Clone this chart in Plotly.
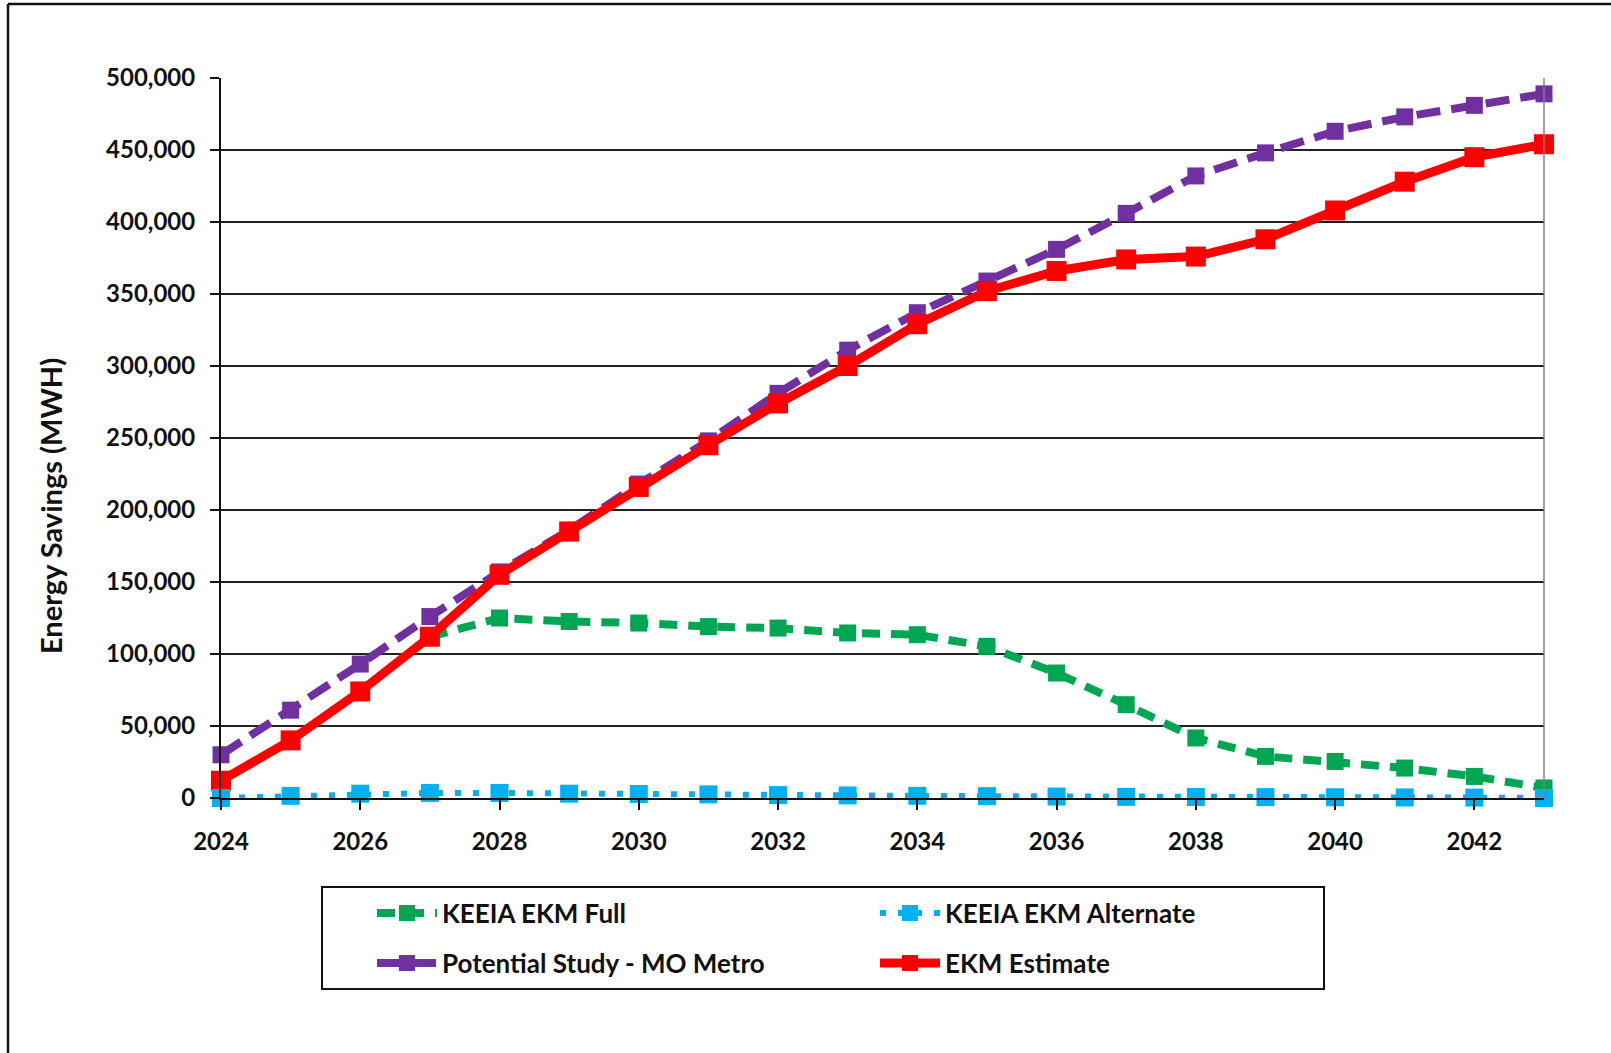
import plotly.graph_objects as go

# Annual energy savings by scenario (MWH)
years = list(range(2024, 2044))
keeia_full = [None, None, None, 112000, 125000, 122600, 121500, 119000, 118000, 114600,
              113400, 105300, 86800, 64800, 41700, 28900, 25400, 20800, 15000, 7000]
keeia_alternate = [0, 1500, 3000, 3500, 3500, 3000, 2800, 2500, 2000, 1800,
                   1500, 1300, 1000, 800, 700, 600, 500, 400, 300, 0]
potential_study = [30000, 61000, 93000, 126000, 157000, 186000, 218000, 248000, 281000, 311000,
                   337000, 359000, 381000, 406000, 432000, 448000, 463000, 473000, 481000, 489000]
ekm_estimate = [12000, 40000, 74000, 112000, 155000, 185000, 216000, 245000, 274000, 300000,
                329000, 352000, 366000, 374000, 376000, 388000, 408000, 428000, 445000, 454000]

y_ticks = [0, 50000, 100000, 150000, 200000, 250000, 300000, 350000, 400000, 450000, 500000]
x_ticks = list(range(2024, 2043, 2))

W, H = 1611, 1053
ML, MR, MT, MB = 221, 67, 78, 255
PW, PH = W - ML - MR, H - MT - MB


def px_x(px):
    return (px - ML) / PW


def px_y(py):
    return (H - MB - py) / PH


FONT = "Lato"
GREEN, BLUE, PURPLE, RED = "#00A651", "#00B0F0", "#7030A0", "#FF0000"

fig = go.Figure()

fig.add_trace(go.Scatter(
    x=years, y=potential_study, name="Potential Study - MO Metro", mode="lines+markers",
    line=dict(color=PURPLE, width=8, dash="24px,11px"),
    marker=dict(symbol="square", size=17, color=PURPLE),
    legend="legend2", legendrank=1, cliponaxis=False,
))
fig.add_trace(go.Scatter(
    x=years, y=keeia_full, name="KEEIA EKM Full", mode="lines+markers",
    line=dict(color=GREEN, width=8, dash="18px,11px"),
    marker=dict(symbol="square", size=17, color=GREEN),
    legend="legend", legendrank=1, cliponaxis=False,
))
fig.add_trace(go.Scatter(
    x=years, y=ekm_estimate, name="EKM Estimate", mode="lines+markers",
    line=dict(color=RED, width=9),
    marker=dict(symbol="square", size=20, color=RED),
    legend="legend2", legendrank=2, cliponaxis=False,
))
fig.add_trace(go.Scatter(
    x=years, y=keeia_alternate, name="KEEIA EKM Alternate", mode="lines+markers",
    line=dict(color=BLUE, width=6, dash="6px,12px"),
    marker=dict(symbol="square", size=18, color=BLUE),
    legend="legend", legendrank=2, cliponaxis=False,
))

tick_font = dict(family=FONT, size=24, color="#111111", weight="bold")
legend_font = dict(family=FONT, size=26, color="#111111", weight="bold")

legend_common = dict(
    orientation="h", xanchor="left", yanchor="middle", x=px_x(372),
    bgcolor="rgba(0,0,0,0)", borderwidth=0, font=legend_font,
    itemwidth=60, entrywidth=428, entrywidthmode="pixels", traceorder="normal",
)

fig.update_layout(
    width=W, height=H,
    margin=dict(l=ML, r=MR, t=MT, b=MB, pad=0),
    paper_bgcolor="white", plot_bgcolor="white",
    showlegend=True,
    legend=dict(legend_common, y=px_y(913)),
    legend2=dict(legend_common, y=px_y(963)),
    xaxis=dict(
        range=[2024, 2043], tickmode="array", tickvals=x_ticks, ticktext=[str(v) for v in x_ticks],
        showgrid=False, zeroline=False, showline=True, linecolor="#111111", linewidth=2,
        ticks="outside", ticklen=10, tickwidth=1.5, tickcolor="#111111",
        tickfont=tick_font, ticklabelstandoff=11,
    ),
    yaxis=dict(
        range=[0, 500000], tickmode="array", tickvals=y_ticks, tickformat=",d",
        showgrid=True, gridcolor="#222222", gridwidth=1.5, zeroline=False,
        showline=True, linecolor="#111111", linewidth=2,
        ticks="outside", ticklen=9, tickwidth=1.5, tickcolor="#111111",
        tickfont=tick_font, ticklabelstandoff=10,
    ),
    annotations=[dict(
        text="Energy Savings (MWH)", xref="paper", yref="paper",
        x=px_x(50), y=px_y(506), xanchor="center", yanchor="middle",
        textangle=-90, showarrow=False,
        font=dict(family=FONT, size=29, color="#111111", weight="bold"),
    )],
    shapes=[
        # right edge of the plotting area
        dict(type="line", xref="paper", yref="paper", x0=1, x1=1, y0=0, y1=1,
             line=dict(color="#808080", width=1.5)),
        # legend frame
        dict(type="rect", xref="paper", yref="paper",
             x0=px_x(322), x1=px_x(1324), y0=px_y(887), y1=px_y(989),
             line=dict(color="#111111", width=2), fillcolor="rgba(0,0,0,0)"),
        # outer chart frame (left and top)
        dict(type="line", xref="paper", yref="paper",
             x0=px_x(8), x1=px_x(8), y0=px_y(4), y1=px_y(H),
             line=dict(color="#111111", width=2.5)),
        dict(type="line", xref="paper", yref="paper",
             x0=px_x(8), x1=px_x(W), y0=px_y(4), y1=px_y(4),
             line=dict(color="#111111", width=2.5)),
    ],
)

fig.write_html("out.html")
